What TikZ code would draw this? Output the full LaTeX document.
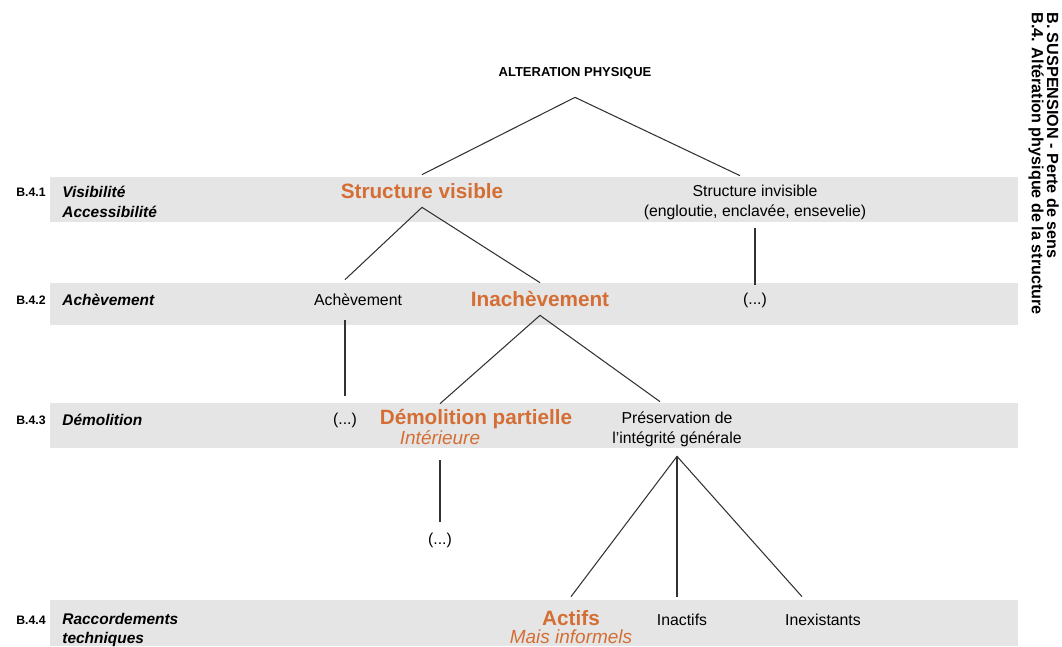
\documentclass[tikz,border=0pt]{standalone}
\usepackage{fontspec}
\setmainfont{Liberation Sans}
\usepackage{xcolor}
\usepackage{tikz}

\definecolor{rust}{RGB}{212,110,52}
\definecolor{band}{RGB}{229,229,229}
\definecolor{ink}{RGB}{50,50,50}

\begin{document}
\begin{tikzpicture}[x=0.02cm,y=-0.02cm,
    every node/.style={inner sep=0pt},
    hi/.style={font=\bfseries\fontsize{11.8}{13}\selectfont, text=rust},
    hisub/.style={font=\itshape\fontsize{10.8}{12}\selectfont, text=rust},
    txt/.style={font=\fontsize{9}{11.3}\selectfont, align=center},
    code/.style={anchor=west, font=\bfseries\fontsize{7}{8}\selectfont},
    level/.style={anchor=west, align=left, font=\bfseries\itshape\fontsize{8.8}{11.3}\selectfont},
    tall/.style={minimum height=#1*0.02cm},
    link/.style={draw=ink, line width=0.6pt}]
  \useasboundingbox (0,0) rectangle (1062,646);
  % grey bands, one per level
  \foreach \ya/\yb in {177/222, 283/325, 403/448, 600/646}
    \fill[band] (50,\ya) rectangle (1018,\yb);

  % level codes and names
  \node[code] (c1) at (16,192) {B.4.1}; \node[level] (l1) at (62,202) {Visibilité\\Accessibilité};
  \node[code] (c2) at (16,300) {B.4.2}; \node[level] (l2) at (62,300) {Achèvement};
  \node[code] (c3) at (16,420) {B.4.3}; \node[level] (l3) at (62,420) {Démolition};
  \node[code] (c4) at (16,620) {B.4.4}; \node[level] (l4) at (62,630) {Raccordements\\techniques};

  % side title
  \node[rotate=-90, anchor=west, font=\bfseries\fontsize{9.2}{10}\selectfont] (t1) at (1053,12) {B. SUSPENSION - Perte de sens};
  \node[rotate=-90, anchor=west, font=\bfseries\fontsize{9.2}{10}\selectfont] (t2) at (1036,12) {B.4. Altération physique de la structure};

  % tree
  \node[tall=48, font=\bfseries\fontsize{7.4}{9}\selectfont] (alt) at (575,73) {ALTERATION PHYSIQUE};
  \node[hi, tall=32] (sv) at (422,191) {Structure visible};
  \node[txt, tall=52] (si) at (755,202) {Structure invisible\\(engloutie, enclavée, ensevelie)};
  \node[txt, tall=40] (ach) at (358,300) {Achèvement};
  \node[hi, tall=32] (inach) at (540,299) {Inachèvement};
  \node[txt, tall=30] (dots2) at (755,300) {(...)};
  \node[txt, tall=48] (dots3) at (345,420) {(...)};
  \node[hi, tall=30] (dp) at (476,419) {Démolition partielle};
  \node[hisub, tall=44] (int) at (440,438) {Intérieure};
  \node[txt, tall=54] (pres) at (677,429) {Préservation de\\l'intégrité générale};
  \node[txt, tall=36] (dots4) at (440,540) {(...)};
  \node[hi, tall=42] (act) at (571,618) {Actifs};
  \node[hisub] (mais) at (571,637) {Mais informels};
  \node[txt, tall=46] (inact) at (682,620) {Inactifs};
  \node[txt, tall=46] (inex) at (823,620) {Inexistants};

  \draw[link] (sv.north) -- (alt.south) -- ([xshift=-0.3cm]si.north);
  \draw[link] (dots3 |- ach.north) -- (sv.south) -- (inach.north);
  \draw[link] (si.south) -- (dots2.north);
  \draw[link] (dots3 |- ach.south) -- (dots3.north);
  \draw[link] (int |- dp.north) -- (inach.south) -- ([xshift=-0.34cm]pres.north);
  \draw[link] (int.south) -- (dots4.north);
  \draw[link] (act.north) -- (pres.south) -- ([xshift=-0.42cm]inex.north);
  \draw[link] (pres.south) -- (pres.south |- inact.north);
\end{tikzpicture}
\end{document}
